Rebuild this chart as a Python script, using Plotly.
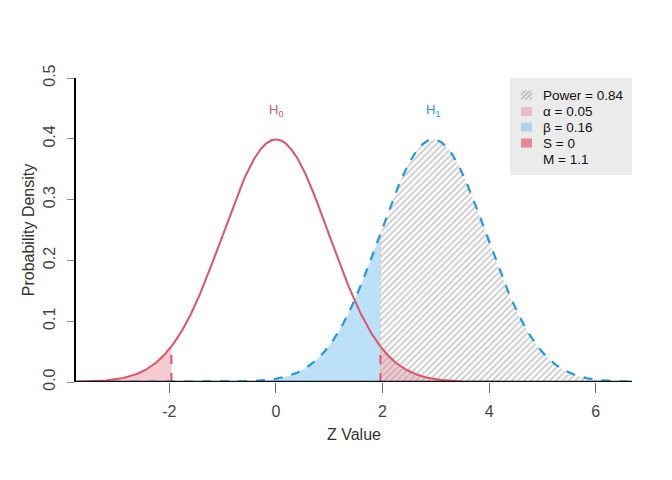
import numpy as np
import plotly.graph_objects as go

# parameters of the two hypotheses
h0_mean = 0.0
h1_mean = 2.95
sd = 1.0
crit = 1.96
x_range = [-3.75, 6.68]
y_ticks = [0.0, 0.1, 0.2, 0.3, 0.4, 0.5]
x_ticks = [-2, 0, 2, 4, 6]
legend_labels = ["Power = 0.84", "α = 0.05", "β = 0.16", "S = 0", "M = 1.1"]
hyp_labels = ["H<sub>0</sub>", "H<sub>1</sub>"]

RED = "#DF536B"
BLUE = "#2297E6"
PINK_FILL = "rgba(223,83,107,0.30)"
BLUE_FILL = "rgba(34,151,230,0.30)"
S_FILL = "rgba(223,83,107,0.65)"
FONT = "Liberation Sans, Arial, Helvetica, sans-serif"


def dnorm(x, m):
    return np.exp(-0.5 * ((x - m) / sd) ** 2) / (sd * np.sqrt(2 * np.pi))


x = np.linspace(x_range[0], x_range[1], 1200)
y0 = dnorm(x, h0_mean)
y1 = dnorm(x, h1_mean)

fig = go.Figure()

# beta region (under H1, left of crit)
xb = np.append(x[x < crit], crit)
fig.add_trace(go.Scatter(x=xb, y=dnorm(xb, h1_mean), fill="tozeroy", mode="none",
                         fillcolor=BLUE_FILL, showlegend=False, hoverinfo="skip"))
# alpha regions (tails of H0)
xl = np.append(x[x < -crit], -crit)
fig.add_trace(go.Scatter(x=xl, y=dnorm(xl, h0_mean), fill="tozeroy", mode="none",
                         fillcolor=PINK_FILL, showlegend=False, hoverinfo="skip"))
xr = np.insert(x[x > crit], 0, crit)
fig.add_trace(go.Scatter(x=xr, y=dnorm(xr, h0_mean), fill="tozeroy", mode="none",
                         fillcolor=PINK_FILL, showlegend=False, hoverinfo="skip"))
# power region (hatched)
fig.add_trace(go.Scatter(x=xr, y=dnorm(xr, h1_mean), fill="tozeroy", mode="none",
                         fillcolor="rgba(0,0,0,0)",
                         fillpattern=dict(shape="/", fgcolor="#9a9a9a", bgcolor="rgba(0,0,0,0)",
                                          size=4.5, solidity=0.42),
                         showlegend=False, hoverinfo="skip"))
fig.add_trace(go.Scatter(x=[crit, crit], y=[0, dnorm(crit, h1_mean)], mode="lines",
                         line=dict(color="#c8c8c8", width=1, dash="dot"),
                         showlegend=False, hoverinfo="skip"))

# curves
fig.add_trace(go.Scatter(x=x, y=y0, mode="lines", line=dict(color=RED, width=2),
                         showlegend=False, hoverinfo="skip"))
fig.add_trace(go.Scatter(x=x, y=y1, mode="lines", line=dict(color=BLUE, width=2.2, dash="dash"),
                         showlegend=False, hoverinfo="skip"))

# critical value lines
for c in (-crit, crit):
    fig.add_trace(go.Scatter(x=[c, c], y=[0, dnorm(c, h0_mean)], mode="lines",
                             line=dict(color=RED, width=2, dash="dash"),
                             showlegend=False, hoverinfo="skip"))

# baseline at zero density
fig.add_trace(go.Scatter(x=x_range, y=[0, 0], mode="lines", line=dict(color="#111111", width=2.4),
                         showlegend=False, hoverinfo="skip", cliponaxis=False))

# hypothesis labels
fig.add_annotation(x=h0_mean, y=0.447, text=hyp_labels[0], showarrow=False,
                   font=dict(color=RED, size=13, family=FONT))
fig.add_annotation(x=h1_mean, y=0.447, text=hyp_labels[1], showarrow=False,
                   font=dict(color=BLUE, size=13, family=FONT))

# legend box (drawn in plot-area paper coordinates)
PW, PH = 556.0, 304.0  # plot area size in px


def px_x(p):
    return p / PW


def px_y(p):
    return 1 - p / PH


fig.add_shape(type="rect", xref="paper", yref="paper",
              x0=px_x(434), x1=1.0, y0=px_y(97), y1=1.0,
              fillcolor="#EBEBEB", line=dict(width=0), layer="above")
swatch_fill = ["#dedede", PINK_FILL, BLUE_FILL, S_FILL, None]
row_y = [17, 33.5, 49, 65, 81.5]
for lab, fc, ry in zip(legend_labels, swatch_fill, row_y):
    if fc is not None:
        fig.add_shape(type="rect", xref="paper", yref="paper",
                      x0=px_x(445), x1=px_x(456), y0=px_y(ry + 4.5), y1=px_y(ry - 4.5),
                      fillcolor=fc, line=dict(width=0), layer="above")
    fig.add_annotation(xref="paper", yref="paper", x=px_x(465), y=px_y(ry),
                       xanchor="left", yanchor="middle", text=lab, showarrow=False,
                       font=dict(size=13.5, color="#111111", family=FONT))
# hatch lines in the power swatch
for k in range(4):
    a = -4.5 + k * 4.5
    x0p, x1p = 445 + max(0, a), 445 + min(11, a + 9)
    y0p = (row_y[0] + 4.5) - (x0p - (445 + a))
    y1p = (row_y[0] + 4.5) - (x1p - (445 + a))
    fig.add_shape(type="line", xref="paper", yref="paper",
                  x0=px_x(x0p), x1=px_x(x1p), y0=px_y(y0p), y1=px_y(y1p),
                  line=dict(color="#a8a8a8", width=1), layer="above")

fig.update_layout(
    width=672, height=480,
    margin=dict(l=68, r=48, t=70, b=106),
    paper_bgcolor="white", plot_bgcolor="white",
    font=dict(family=FONT, color="#333333"),
    showlegend=False,
    xaxis=dict(range=x_range, tickvals=x_ticks, ticktext=[str(v) for v in x_ticks],
               showgrid=False, zeroline=False,
               showline=False,
               ticks="outside", ticklen=10, tickcolor="#666666", tickwidth=1.3,
               tickfont=dict(size=16, color="#444444"), ticklabelstandoff=5,
               title=dict(text="Z Value", font=dict(size=16, color="#333333"), standoff=9)),
    yaxis=dict(range=[0, 0.5], tickvals=y_ticks, ticktext=[f"{v:.1f}" for v in y_ticks],
               showgrid=False, zeroline=False, showline=True, linecolor="black", linewidth=1.5,
               ticks="outside", ticklen=7, tickcolor="#888888", tickwidth=1.3,
               tickangle=-90, tickfont=dict(size=16, color="#444444"), ticklabelstandoff=6,
               title=dict(text="Probability Density", font=dict(size=16, color="#333333"),
                          standoff=2)),
)

fig.write_html("out.html")
